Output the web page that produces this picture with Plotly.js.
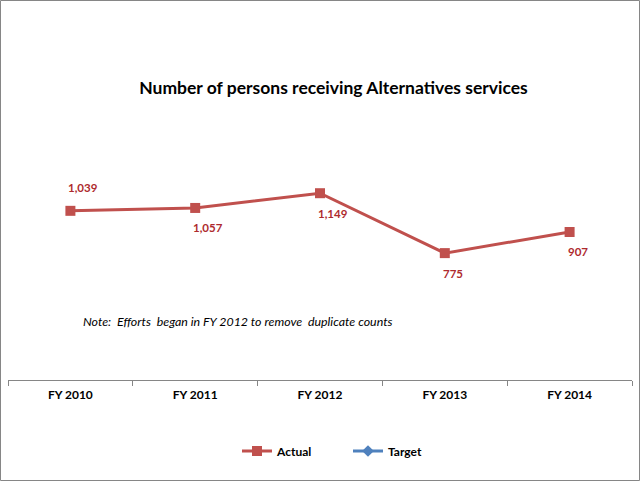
<!DOCTYPE html>
<html>
<head>
<meta charset="utf-8">
<script src="https://cdn.plot.ly/plotly-3.0.1.min.js"></script>
<style>
  html, body { margin: 0; padding: 0; background: #ffffff; }
  #chart { width: 640px; height: 481px; }
</style>
</head>
<body>
<div id="chart"></div>
<script>
const categories = ['FY 2010', 'FY 2011', 'FY 2012', 'FY 2013', 'FY 2014'];
const actual = [1039, 1057, 1149, 775, 907];
const target = [null, null, null, null, null];
const actualLabels = ['1,039', '1,057', '1,149', '775', '907'];
const labelAbove = [true, false, false, false, false];

const FONT = 'Lato, "Open Sans", sans-serif';
const RED = '#C0504D';
const LABEL_RED = '#AE2A2E';
const BLUE = '#4F81BD';

const L = 8, R = 8, T = 153, B = 101;
const W = 640, H = 481;
const pw = W - L - R, ph = H - T - B;
const px = v => (v - L) / pw;
const py = v => (H - B - v) / ph;

const traces = [
  {
    type: 'scatter', mode: 'lines+markers', name: 'Actual',
    x: categories, y: actual,
    line: { color: RED, width: 3 },
    marker: { symbol: 'square', size: 10, color: RED },
    cliponaxis: false, hoverinfo: 'skip'
  },
  {
    type: 'scatter', mode: 'lines+markers', name: 'Target',
    x: categories, y: target,
    line: { color: BLUE, width: 3 },
    marker: { symbol: 'diamond', size: 9, color: BLUE },
    hoverinfo: 'skip'
  }
];

const labelAnnotations = categories.map((c, i) => ({
  text: '<b>' + actualLabels[i] + '</b>',
  xref: 'x', yref: 'y', x: c, y: actual[i],
  xanchor: 'left', yanchor: 'middle', xshift: -4,
  yshift: labelAbove[i] ? 23 : -20,
  showarrow: false,
  font: { family: FONT, size: 11.5, color: LABEL_RED }
}));

const layout = {
  width: W, height: H,
  margin: { l: L, r: R, t: T, b: B },
  paper_bgcolor: '#ffffff', plot_bgcolor: '#ffffff',
  font: { family: FONT, size: 12, color: '#000000' },
  title: {
    text: '<b>Number of persons receiving Alternatives services</b>',
    font: { family: FONT, size: 17.5, color: '#000000' },
    x: 333.5 / W, xref: 'container', xanchor: 'center',
    y: 1 - 88 / H, yref: 'container', yanchor: 'middle'
  },
  xaxis: {
    type: 'category', range: [-0.5, 4.5],
    showline: true, linecolor: '#868686', linewidth: 1,
    ticks: 'outside', ticklen: 5, tickcolor: '#868686', tickson: 'boundaries',
    ticklabelstandoff: 4,
    showgrid: false, zeroline: false,
    tickfont: { family: FONT, size: 12, color: '#000000', weight: 'bold' },
    fixedrange: true
  },
  yaxis: {
    range: [-17, 1400], visible: false, showgrid: false, zeroline: false, fixedrange: true
  },
  showlegend: true,
  legend: {
    orientation: 'h', x: 237 / W, xref: 'container', xanchor: 'left',
    y: 1 - 451 / H, yref: 'container', yanchor: 'middle',
    font: { family: FONT, size: 12, color: '#000000', weight: 'bold' },
    itemwidth: 30, entrywidth: 66, entrywidthmode: 'pixels'
  },
  annotations: [
    {
      text: '<i>Note:  Efforts  began in FY 2012 to remove  duplicate counts</i>',
      xref: 'paper', yref: 'paper', x: px(81), y: py(321),
      xanchor: 'left', yanchor: 'middle', showarrow: false,
      font: { family: FONT, size: 12.4, color: '#000000' }
    }
  ].concat(labelAnnotations),
  shapes: [
    {
      type: 'rect', xref: 'paper', yref: 'paper',
      x0: px(0.5), x1: px(639.5), y0: py(480.5), y1: py(0.5),
      line: { color: '#868686', width: 1 }, fillcolor: 'rgba(0,0,0,0)', layer: 'below'
    }
  ],
  hovermode: false
};

Plotly.newPlot('chart', traces, layout, { displayModeBar: false, staticPlot: true });
</script>
</body>
</html>
